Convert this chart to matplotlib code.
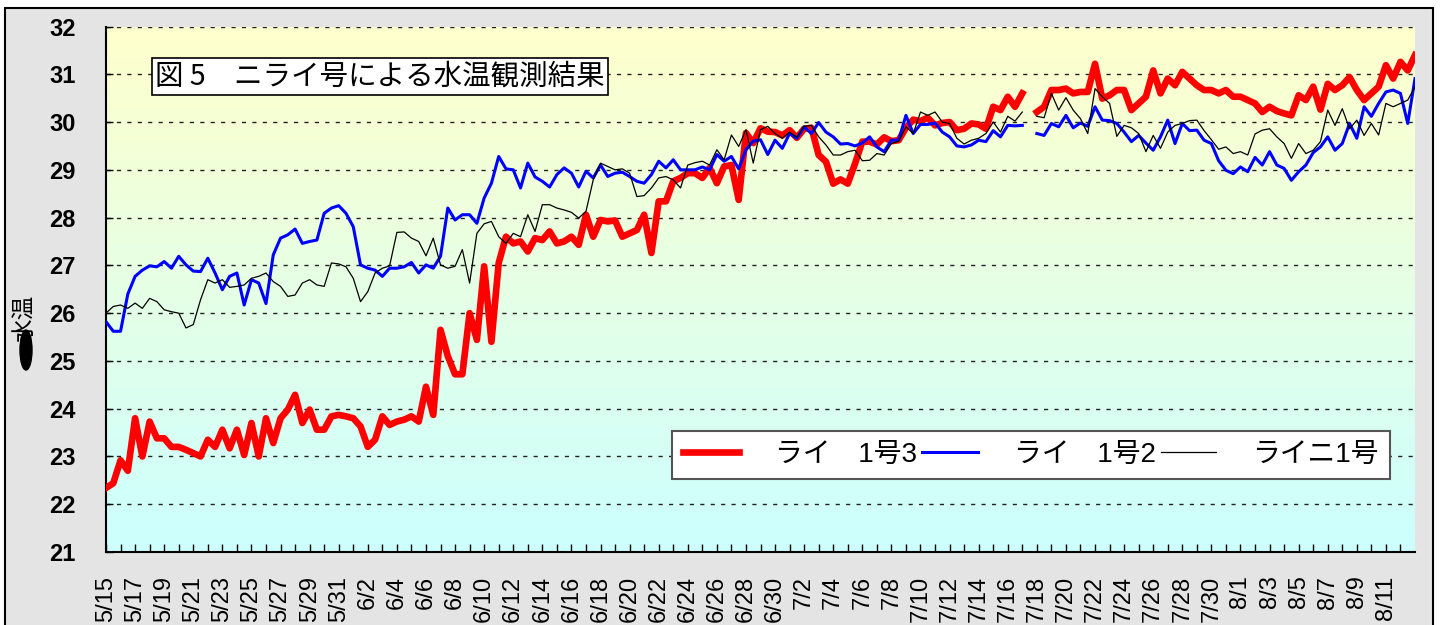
import numpy as np
import matplotlib
matplotlib.use("Agg")
import matplotlib.pyplot as plt
from matplotlib.colors import LinearSegmentedColormap
from matplotlib.patches import Rectangle, Ellipse

nan = np.nan

# half-day samples from 5/15 (day 0) to 8/13 (day 90)
days = np.arange(0, 90.5, 0.5)

nirai3 = [
    22.34, 22.44, 22.92, 22.70, 23.80, 23.00, 23.73, 23.38, 23.38, 23.20,
    23.20, 23.14, 23.07, 23.00, 23.35, 23.20, 23.56, 23.17, 23.56, 23.03,
    23.70, 23.00, 23.80, 23.28, 23.80, 23.98, 24.29, 23.70, 23.98, 23.56,
    23.56, 23.84, 23.87, 23.84, 23.80, 23.63, 23.20, 23.35, 23.84, 23.66,
    23.73, 23.77, 23.84, 23.73, 24.46, 23.87, 25.65, 25.10, 24.72, 24.72,
    26.00, 25.44, 26.98, 25.40, 27.05, 27.60, 27.46, 27.50, 27.29, 27.57,
    27.53, 27.71, 27.46, 27.50, 27.60, 27.43, 28.06, 27.60, 27.95, 27.92,
    27.94, 27.60, 27.67, 27.74, 28.06, 27.26, 28.34, 28.34, 28.76, 28.83,
    28.93, 28.93, 28.83, 29.04, 28.72, 29.07, 29.10, 28.37, 29.77, 29.56,
    29.87, 29.80, 29.79, 29.72, 29.83, 29.67, 29.86, 29.88, 29.31, 29.17,
    28.71, 28.80, 28.71, 29.13, 29.59, 29.59, 29.53, 29.68, 29.60, 29.62,
    29.88, 30.05, 30.02, 30.09, 29.93, 29.98, 30.00, 29.83, 29.86, 29.97,
    29.95, 29.86, 30.32, 30.25, 30.53, 30.32, 30.60, nan, 30.21, 30.32,
    30.67, 30.67, 30.70, 30.60, 30.63, 30.63, 31.22, 30.49, 30.56, 30.67,
    30.67, 30.25, 30.39, 30.53, 31.08, 30.60, 30.91, 30.77, 31.05, 30.91,
    30.77, 30.67, 30.67, 30.60, 30.67, 30.53, 30.53, 30.46, 30.39, 30.21,
    30.32, 30.23, 30.18, 30.14, 30.56, 30.46, 30.74, 30.26, 30.80, 30.67,
    30.77, 30.94, 30.67, 30.46, 30.60, 30.74, 31.19, 30.91, 31.26, 31.08,
    31.40,
]

nirai2 = [
    25.82, 25.62, 25.62, 26.40, 26.77, 26.90, 26.99, 26.97, 27.08, 26.94,
    27.19, 27.01, 26.88, 26.87, 27.15, 26.84, 26.49, 26.77, 26.84, 26.17,
    26.70, 26.63, 26.20, 27.22, 27.57, 27.64, 27.76, 27.46, 27.50, 27.53,
    28.09, 28.20, 28.25, 28.09, 27.81, 27.01, 26.94, 26.90, 26.77, 26.94,
    26.94, 26.97, 27.06, 26.84, 27.01, 26.94, 27.19, 28.20, 27.95, 28.06,
    28.06, 27.88, 28.41, 28.72, 29.28, 29.02, 29.00, 28.62, 29.14, 28.85,
    28.76, 28.64, 28.90, 29.04, 28.93, 28.64, 28.97, 28.83, 29.10, 28.86,
    28.93, 28.95, 28.86, 28.76, 28.72, 28.90, 29.18, 29.04, 29.21, 29.00,
    29.00, 29.00, 29.06, 29.00, 29.32, 29.18, 29.28, 29.02, 29.42, 29.60,
    29.63, 29.32, 29.62, 29.45, 29.76, 29.66, 29.90, 29.76, 29.99, 29.79,
    29.69, 29.54, 29.55, 29.50, 29.56, 29.69, 29.48, 29.38, 29.62, 29.62,
    30.14, 29.76, 29.95, 29.95, 29.98, 29.79, 29.69, 29.50, 29.48, 29.52,
    29.62, 29.59, 29.82, 29.69, 29.93, 29.92, 29.93, nan, 29.76, 29.72,
    29.97, 29.90, 30.14, 29.88, 29.98, 29.91, 30.32, 30.04, 30.03, 29.97,
    29.79, 29.59, 29.72, 29.56, 29.41, 29.69, 30.04, 29.55, 29.97, 29.82,
    29.83, 29.62, 29.55, 29.19, 28.99, 28.92, 29.06, 28.96, 29.26, 29.10,
    29.38, 29.10, 29.03, 28.78, 28.96, 29.10, 29.36, 29.48, 29.69, 29.41,
    29.55, 29.97, 29.66, 30.32, 30.12, 30.39, 30.63, 30.67, 30.60, 29.97,
    30.91,
]

nirai1 = [
    26.00, 26.14, 26.17, 26.10, 26.21, 26.10, 26.31, 26.24, 26.07, 26.03,
    26.00, 25.69, 25.76, 26.28, 26.70, 26.63, 26.70, 26.54, 26.56, 26.59,
    26.73, 26.77, 26.84, 26.66, 26.56, 26.35, 26.38, 26.63, 26.70, 26.59,
    26.56, 27.05, 27.03, 26.97, 26.73, 26.24, 26.45, 26.84, 26.94, 26.99,
    27.69, 27.70, 27.57, 27.50, 27.20, 27.57, 27.01, 26.94, 26.98, 27.33,
    26.63, 27.67, 27.87, 27.92, 27.60, 27.46, 27.67, 27.60, 28.06, 27.71,
    28.27, 28.27, 28.20, 28.16, 28.11, 27.99, 28.13, 28.79, 29.14, 29.07,
    29.00, 29.02, 28.93, 28.44, 28.46, 28.62, 28.83, 28.86, 28.79, 28.62,
    29.10, 29.15, 29.18, 29.10, 29.42, 29.21, 29.73, 29.49, 29.84, 29.14,
    29.84, 29.91, 29.76, 29.66, 29.79, 29.68, 29.91, 29.93, 29.69, 29.52,
    29.31, 29.31, 29.38, 29.41, 29.19, 29.20, 29.34, 29.31, 29.55, 29.60,
    29.90, 29.76, 30.21, 30.14, 30.21, 30.00, 29.97, 29.66, 29.54, 29.62,
    29.66, 29.76, 30.00, 29.79, 30.12, 30.02, 30.21, nan, 30.12, 30.09,
    30.60, 30.25, 30.51, 30.25, 30.07, 29.76, 30.70, 30.53, 30.39, 29.70,
    29.93, 29.88, 29.76, 29.38, 29.72, 29.45, 29.79, 29.93, 29.97, 30.03,
    30.04, 29.82, 29.63, 29.43, 29.48, 29.34, 29.38, 29.31, 29.75, 29.83,
    29.86, 29.69, 29.55, 29.24, 29.55, 29.34, 29.41, 29.59, 30.25, 29.93,
    30.28, 29.86, 30.04, 29.72, 29.97, 29.73, 30.39, 30.32, 30.39, 30.46,
    30.74,
]

date_labels = ["5/15", "5/17", "5/19", "5/21", "5/23", "5/25", "5/27", "5/29",
               "5/31", "6/2", "6/4", "6/6", "6/8", "6/10", "6/12", "6/14",
               "6/16", "6/18", "6/20", "6/22", "6/24", "6/26", "6/28", "6/30",
               "7/2", "7/4", "7/6", "7/8", "7/10", "7/12", "7/14", "7/16",
               "7/18", "7/20", "7/22", "7/24", "7/26", "7/28", "7/30", "8/1",
               "8/3", "8/5", "8/7", "8/9", "8/11"]
series_names = ["ライ　1号3", "ライ　1号2", "ライニ1号"]
title = "図 5　ニライ号による水温観測結果"

plt.rcParams['font.family'] = ['Liberation Sans', 'Noto Sans CJK JP', 'DejaVu Sans']

W, H = 1443, 625
fig = plt.figure(figsize=(W / 100, H / 100), dpi=100)
fig.patch.set_facecolor('white')
# grey panel with black frame behind everything
fig.patches.append(Rectangle((5 / W, -0.05), 1428 / W, 1.05 - 8 / H,
                             transform=fig.transFigure, facecolor='#e4e4e4',
                             edgecolor='black', lw=1.5, zorder=-10))

ax = fig.add_axes([106 / W, 1 - 552 / H, 1309 / W, 525.5 / H])

bg = LinearSegmentedColormap.from_list('bg', ['#ccffff', '#ffffcc'])
ax.imshow(np.linspace(0, 1, 256).reshape(-1, 1), extent=[0, 90, 21, 32],
          origin='lower', aspect='auto', cmap=bg, zorder=0)

ax.plot(days, nirai3, color='#ff0000', lw=4.8, solid_joinstyle='round',
        label=series_names[0], zorder=3)
ax.plot(days, nirai2, color='#0000ff', lw=2.2, label=series_names[1], zorder=4)
ax.plot(days, nirai1, color='black', lw=0.9, label=series_names[2], zorder=5)

ax.set_xlim(0, 90)
ax.set_ylim(21, 32)
ax.set_yticks(range(21, 33))
ax.yaxis.grid(True, color='#222222', ls=(0, (3, 4.5)), lw=1.0)
ax.set_axisbelow(False)

ax.set_xticks(np.arange(0, 90, 2))
ax.set_xticks(np.arange(1, 90, 2), minor=True)
ax.set_xticklabels(date_labels, rotation=90)

ax.tick_params(axis='x', which='both', direction='in', length=6, width=1,
               labelsize=17, pad=17)
ax.tick_params(axis='y', direction='in', length=5, width=1, labelsize=17, pad=22)
for lbl in ax.get_yticklabels():
    lbl.set_fontweight('bold')

for s in ['top', 'right']:
    ax.spines[s].set_visible(False)
for s in ['left', 'bottom']:
    ax.spines[s].set_linewidth(1.5)
    ax.spines[s].set_color('black')

ax.text(0.2093, 0.905, title, transform=ax.transAxes, ha='center', va='center',
        fontsize=20.5, family=['Noto Sans CJK JP', 'DejaVu Sans'],
        bbox=dict(boxstyle='square,pad=0.12', fc='white', ec='black', lw=1.2),
        zorder=6)

leg = ax.legend(ncol=3, loc='center', bbox_to_anchor=(0.4324, 0.133, 0.5486, 0.103),
                mode='expand', fontsize=20, handlelength=2.0, handletextpad=1.3,
                columnspacing=0.5, frameon=True, fancybox=False,
                edgecolor='#555555', framealpha=1, borderpad=0.4, borderaxespad=0)
leg.get_frame().set_linewidth(1.5)
leg.set_zorder(7)

fig.text(25 / W, 1 - 318 / H, "水温", rotation=90, fontsize=17,
         family=['Noto Sans CJK JP', 'DejaVu Sans'], ha='center', va='center')
fig.patches.append(Ellipse((26 / W, 1 - 350 / H), 12 / W, 40 / H,
                           transform=fig.transFigure, color='black'))

fig.savefig('out.png', dpi=100)
